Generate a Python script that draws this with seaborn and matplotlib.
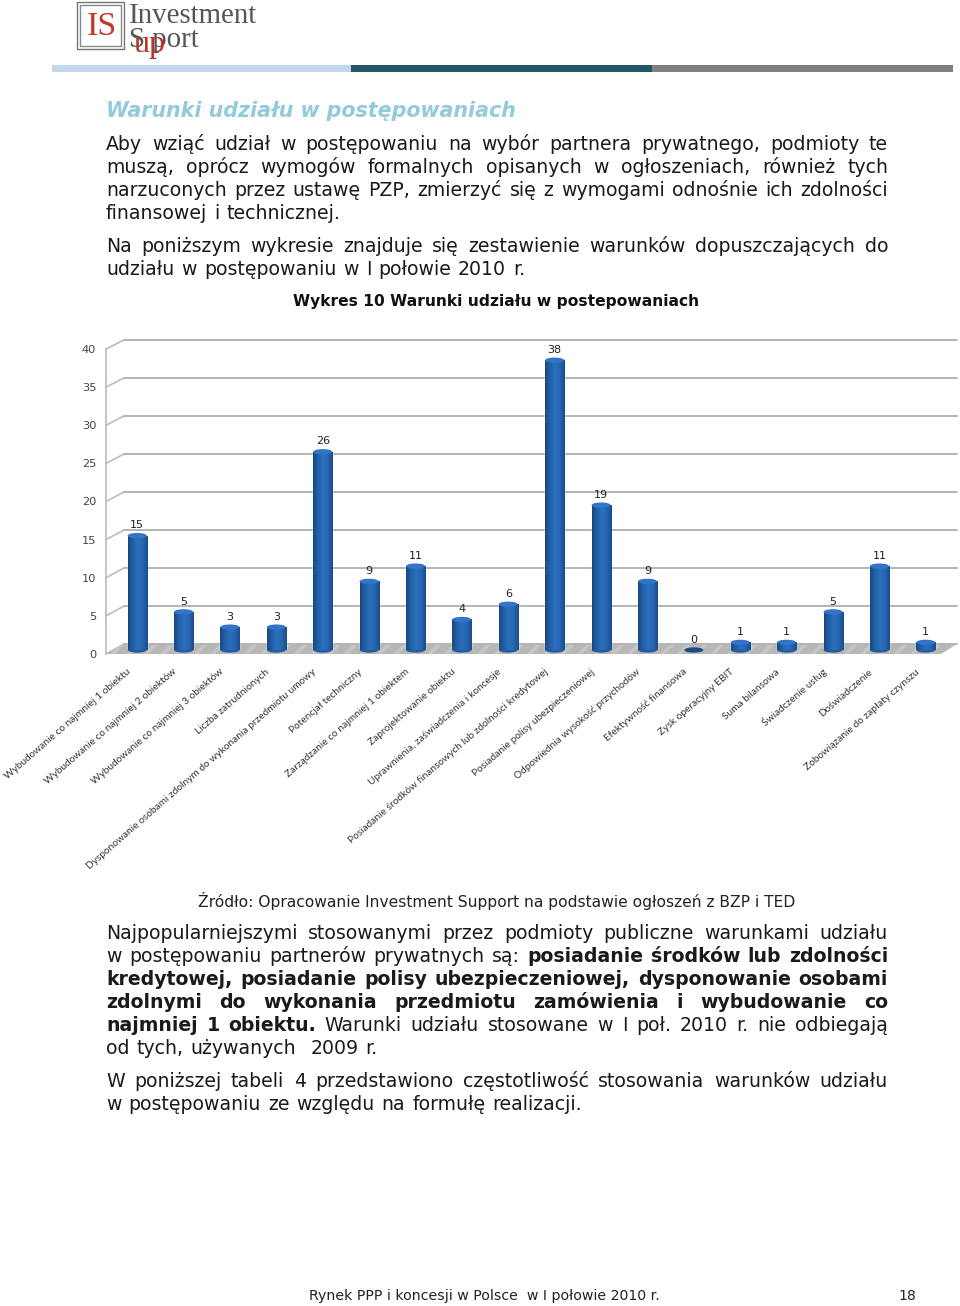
import numpy as np
import pandas as pd
import seaborn as sns
import matplotlib.pyplot as plt
from matplotlib.colors import LinearSegmentedColormap
from matplotlib.patches import Ellipse, Polygon, Rectangle

warunki = ['Wybudowanie co najmniej 1 obiektu', 'Wybudowanie co najmniej 2 obiektów',
           'Wybudowanie co najmniej 3 obiektów', 'Liczba zatrudnionych',
           'Dysponowanie osobami zdolnym do wykonania przedmiotu umowy', 'Potencjał techniczny',
           'Zarządzanie co najmniej 1 obiektem', 'Zaprojektowanie obiektu',
           'Uprawnienia, zaświadczenia i koncesje', 'Posiadanie środków finansowych lub zdolności kredytowej',
           'Posiadanie polisy ubezpieczeniowej', 'Odpowiednia wysokość przychodów',
           'Efektywność finansowa', 'Zysk operacyjny EBIT', 'Suma bilansowa',
           'Świadczenie usług', 'Doświadczenie', 'Zobowiązanie do zapłaty czynszu']
liczba = [15, 5, 3, 3, 26, 9, 11, 4, 6, 38, 19, 9, 0, 1, 1, 5, 11, 1]
y_ticks = [0, 5, 10, 15, 20, 25, 30, 35, 40]

title = 'Warunki udziału w postępowaniach'
chart_title = 'Wykres 10 Warunki udziału w postepowaniach'
source = 'Źródło: Opracowanie Investment Support na podstawie ogłoszeń z BZP i TED'
footer = 'Rynek PPP i koncesji w Polsce  w I połowie 2010 r.'
page_no = '18'

# (baseline y, text, justified?) - ** switches bold on and off
para_lines = [
    (150, 'Aby wziąć udział w postępowaniu na wybór partnera prywatnego, podmioty te', True),
    (173, 'muszą, oprócz wymogów formalnych opisanych w ogłoszeniach, również tych', True),
    (196, 'narzuconych przez ustawę PZP, zmierzyć się z wymogami odnośnie ich zdolności', True),
    (219, 'finansowej i technicznej.', False),
    (252, 'Na poniższym wykresie znajduje się zestawienie warunków dopuszczających do', True),
    (275, 'udziału w postępowaniu w I połowie 2010 r.', False),
    (939, 'Najpopularniejszymi stosowanymi przez podmioty publiczne warunkami udziału', True),
    (962, 'w postępowaniu partnerów prywatnych są: **posiadanie środków lub zdolności**', True),
    (985, '**kredytowej, posiadanie polisy ubezpieczeniowej, dysponowanie osobami**', True),
    (1008, '**zdolnymi do wykonania przedmiotu zamówienia i wybudowanie co**', True),
    (1031, '**najmniej 1 obiektu.** Warunki udziału stosowane w I poł. 2010 r. nie odbiegają', True),
    (1054, 'od tych, używanych  2009 r.', False),
    (1087, 'W poniższej tabeli 4 przedstawiono częstotliwość stosowania warunków udziału', True),
    (1110, 'w postępowaniu ze względu na formułę realizacji.', False),
]

W, H = 960, 1306
sns.set_style('white')
plt.rcParams['font.family'] = ['DejaVu Sans']
plt.rcParams['hatch.linewidth'] = 2.5

fig = plt.figure(figsize=(W / 100, H / 100), dpi=100)


def px_axes(x0, y_top, x1, y_bottom, zorder):
    a = fig.add_axes([x0 / W, 1 - y_bottom / H, (x1 - x0) / W, (y_bottom - y_top) / H], zorder=zorder)
    a.patch.set_alpha(0)
    return a


page = px_axes(0, 0, W, H, 0)
page.set_xlim(0, W)
page.set_ylim(H, 0)
page.axis('off')

# logo and header stripe
page.add_patch(Rectangle((77, 2), 47, 47, fill=False, ec='#777777', lw=1))
page.add_patch(Rectangle((80, 5), 41, 41, fill=False, ec='#888888', lw=1))
page.text(102, 27, 'IS', family='Liberation Serif', size=24.5, color='#c0392b', ha='center', va='center')
page.text(129, 23, 'Investment', family='Liberation Serif', size=20.8, color='#555555')
page.text(129, 47, 'S port', family='Liberation Serif', size=20.8, color='#555555')
page.text(134, 52, 'up', family='Liberation Serif', size=23, color='#b8352a')
for x0, x1, c in [(52, 351, '#c2d6ec'), (351, 652, '#215868'), (652, 953, '#7f7f7f')]:
    page.add_patch(Rectangle((x0, 65), x1 - x0, 7, fc=c, ec='none'))

page.text(106, 117, title, size=14.9, weight='bold', style='italic', color='#93cbdc')
page.text(496, 306, chart_title, size=11.2, weight='bold', color='#111111', ha='center')
page.text(497, 907, source, size=11.2, color='#222222', ha='center')
page.text(484, 1300, footer, size=10.2, color='#222222', ha='center')
page.text(907, 1300, page_no, size=10.2, color='#222222', ha='center')

# justified body text, word by word
renderer = fig.canvas.get_renderer()
TXT_SIZE = 13.6
LEFT, RIGHT = 106, 888


def word_width(word, weight):
    if not word:
        return 0
    t = page.text(0, 0, word, size=TXT_SIZE, weight=weight)
    w = t.get_window_extent(renderer).width
    t.remove()
    return w


for y, line, justified in para_lines:
    words = []
    for k, part in enumerate(line.split('**')):
        if part.strip():
            words += [(w, 'bold' if k % 2 else 'normal') for w in part.strip().split(' ')]
    widths = [word_width(w, b) for w, b in words]
    gap = (RIGHT - LEFT - sum(widths)) / (len(words) - 1) if justified else 7
    x = LEFT
    for (w, b), wd in zip(words, widths):
        page.text(x, y, w, size=TXT_SIZE, weight=b, color='#1a1a1a')
        x += wd + gap

# back wall of the 3d chart
wall = px_axes(124, 340, 957, 644, 1)
wall.set_xlim(0, 1)
wall.set_ylim(0, 40)
wall.set_yticks(y_ticks)
wall.set_xticks([])
wall.set_yticklabels([])
wall.tick_params(axis='y', length=0)
wall.grid(axis='y', color='#b4b4b4', lw=1.4)
for g in wall.get_ygridlines():
    g.set_clip_on(False)
sns.despine(ax=wall, left=True, bottom=True)

# side wall diagonals and floor
for v in y_ticks:
    page.plot([106, 124], [654 - v * 7.625, 644 - v * 7.6], color='#bcbcbc', lw=1.2, zorder=1)
page.set_xlim(0, W)
page.set_ylim(H, 0)
page.add_patch(Polygon([(106, 654), (124, 644), (957, 644), (941, 654)], fc='#b7b7b7', ec='none', zorder=2))
page.add_patch(Polygon([(106, 654), (124, 644), (957, 644), (941, 654)], fc='none', ec='#c6c6c6',
                       lw=0, hatch='//', zorder=2))

# bars
df = pd.DataFrame({'warunek': warunki, 'liczba': liczba})
ax = px_axes(114, 345, 949, 650, 3)
sns.barplot(data=df, x='warunek', y='liczba', color='#2a6ab5', saturation=1, width=0.41, ax=ax)
ax.set_xlim(-0.5, 17.5)
ax.set_ylim(0, 40)
ax.axis('off')

cyl = LinearSegmentedColormap.from_list('cyl', ['#1a4883', '#2360a6', '#2c6fbe', '#2666b1', '#1b4d8c'])
grad = np.linspace(0, 1, 64).reshape(1, -1)
for bar, v in zip(list(ax.patches), liczba):
    x0, w, h = bar.get_x(), bar.get_width(), bar.get_height()
    xc = x0 + w / 2
    if v > 0:
        ax.add_patch(Ellipse((xc, 0), w, 0.7, fc='#235c9f', ec='none', zorder=2, clip_on=False))
        im = ax.imshow(grad, cmap=cyl, extent=(x0, x0 + w, 0, h), aspect='auto', zorder=3)
        im.set_clip_path(bar)
    ax.add_patch(Ellipse((xc, h), w, 0.7, fc='#3275c8' if v > 0 else '#1c4a85', ec='none', zorder=4,
                         clip_on=False))
    ax.text(xc, h + 0.7, str(v), ha='center', va='bottom', size=8, color='#222222', zorder=5)
ax.set_xlim(-0.5, 17.5)
ax.set_ylim(0, 40)

# front axis with the ticks and labels
front = px_axes(106, 349, 941, 654, 4)
front.set_xlim(-0.5, 17.5)
front.set_ylim(0, 40)
front.set_yticks(y_ticks)
front.set_yticklabels(y_ticks, size=8.2, color='#444444')
front.set_xticks(range(len(warunki)))
front.set_xticklabels(warunki, rotation=41, ha='right', va='center', rotation_mode='anchor',
                      family='Lato', size=7.3, color='#333333')
front.set_xticks(np.arange(-0.5, 18), minor=True)
front.tick_params(axis='x', which='major', length=0, pad=12)
front.tick_params(axis='x', which='minor', length=4, color='#aaaaaa', width=1, direction='out')
front.tick_params(axis='y', length=0, pad=7)
sns.despine(ax=front, top=True, right=True, bottom=True)
front.spines['left'].set_color('#bcbcbc')
front.spines['left'].set_linewidth(1.2)

fig.savefig('out.png', dpi=100)
